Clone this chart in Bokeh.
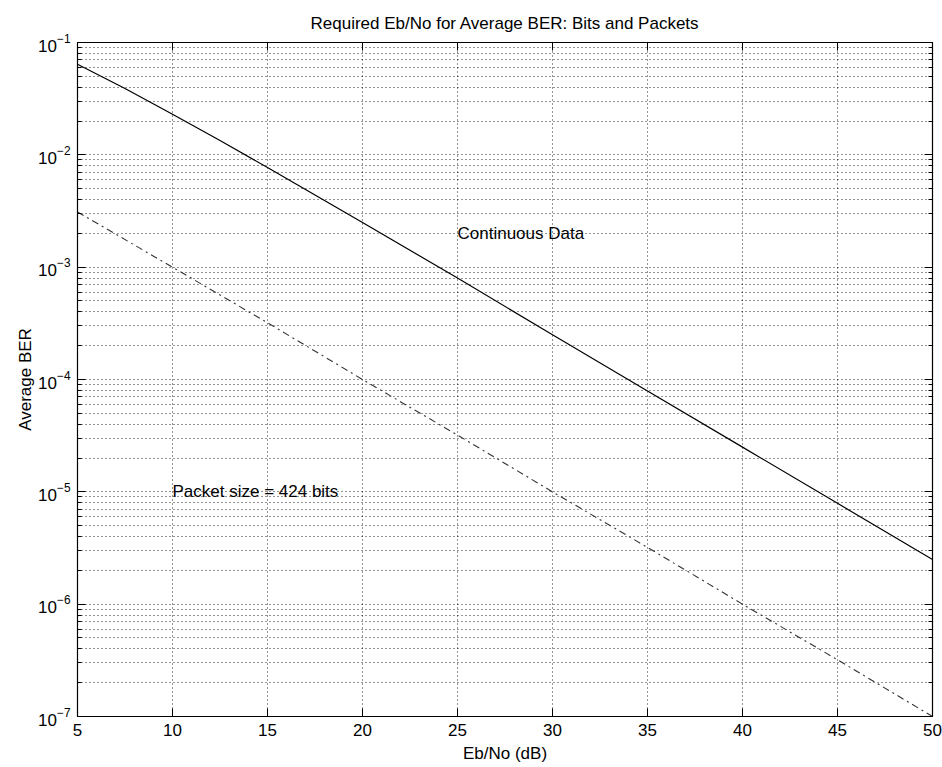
from bokeh.plotting import figure
from bokeh.models import (LogAxis, LinearAxis, FixedTicker, Label, Range1d)
from bokeh.embed import file_html
from bokeh.resources import INLINE

# Data
ebno_cont = [5, 7.5, 10, 12.5, 15, 20, 25, 30, 35, 40, 45, 50]
ber_continuous = [6.4e-2, 3.9e-2, 2.3e-2, 1.34e-2, 7.7e-3, 2.5e-3, 8.0e-4, 2.5e-4, 7.9e-5, 2.5e-5, 7.9e-6, 2.5e-6]
ebno_packet = [5, 10, 15, 20, 25, 30, 35, 40, 45, 50]
ber_packet = [3.1e-3, 1.0e-3, 3.2e-4, 1.0e-4, 3.2e-5, 1.0e-5, 3.2e-6, 1.0e-6, 3.2e-7, 1.0e-7]
x_ticks = [5, 10, 15, 20, 25, 30, 35, 40, 45, 50]
y_ticks = [1e-7, 1e-6, 1e-5, 1e-4, 1e-3, 1e-2, 1e-1]

title_text = "Required Eb/No for Average BER: Bits and Packets"
x_label = "Eb/No (dB)"
y_label = "Average BER"
annotations = [("Continuous Data", 25, 2e-3), ("Packet size = 424 bits", 10, 1e-5)]

FONT = "Liberation Sans"
FS = "17px"

y_minor = [m * t for t in y_ticks[:-1] for m in range(2, 10)]

p = figure(width=942, height=767, y_axis_type="log",
           x_range=Range1d(5, 50), y_range=Range1d(1e-7, 1e-1),
           output_backend="svg", toolbar_location=None,
           min_border_left=77, min_border_right=10,
           min_border_top=42, min_border_bottom=51)

p.title.text = title_text
p.title.align = "center"
p.title.text_font = FONT
p.title.text_font_size = FS
p.title.text_font_style = "normal"
p.title.text_color = "black"
p.title.offset = 0
p.title.standoff = 20
p.outline_line_color = "black"
p.outline_line_width = 1.2

xt = FixedTicker(ticks=x_ticks, minor_ticks=[])
yt = FixedTicker(ticks=y_ticks, minor_ticks=y_minor)

for ax in p.xaxis:
    ax.ticker = xt
    ax.axis_label = x_label
for ax in p.yaxis:
    ax.ticker = yt
    ax.axis_label = y_label

def style(ax, labels=True):
    ax.major_tick_in = 8
    ax.major_tick_out = 0
    ax.minor_tick_in = 4
    ax.minor_tick_out = 0
    ax.axis_line_color = "black"
    ax.major_tick_line_color = "black"
    ax.minor_tick_line_color = "black"
    ax.major_label_text_font = FONT
    ax.major_label_text_font_size = FS if labels else "1px"
    ax.major_label_text_color = "black"
    if not labels:
        ax.major_label_text_alpha = 0
        ax.major_label_standoff = 0
    else:
        ax.major_label_standoff = 7
    ax.axis_label_text_font = FONT
    ax.axis_label_text_font_size = FS
    ax.axis_label_text_font_style = "normal"
    ax.axis_label_text_color = "black"
    ax.axis_label_standoff = 5

for ax in p.xaxis + p.yaxis:
    style(ax)
for ax in p.yaxis:
    ax.axis_label_standoff = 0

top = LinearAxis(ticker=xt)
style(top, labels=False)
right = LogAxis(ticker=yt)
style(right, labels=False)
p.add_layout(top, "above")
p.add_layout(right, "right")

p.xgrid.ticker = xt
p.ygrid.ticker = yt
for g in (p.xgrid, p.ygrid):
    g.grid_line_color = "black"
    g.grid_line_dash = "1 3"
    g.grid_line_alpha = 0.85
p.ygrid.minor_grid_line_color = "black"
p.ygrid.minor_grid_line_dash = "1 3"
p.ygrid.minor_grid_line_alpha = 0.85

p.line(ebno_cont, ber_continuous, line_color="black", line_width=1.2)
p.line(ebno_packet, ber_packet, line_color="#333333", line_width=1.1, line_dash="7 4 2 4")

for txt, xv, yv in annotations:
    p.add_layout(Label(x=xv, y=yv, text=txt, text_font=FONT, text_font_size=FS,
                       text_baseline="middle", text_color="black"))

open("out.html", "w").write(file_html(p, INLINE))
